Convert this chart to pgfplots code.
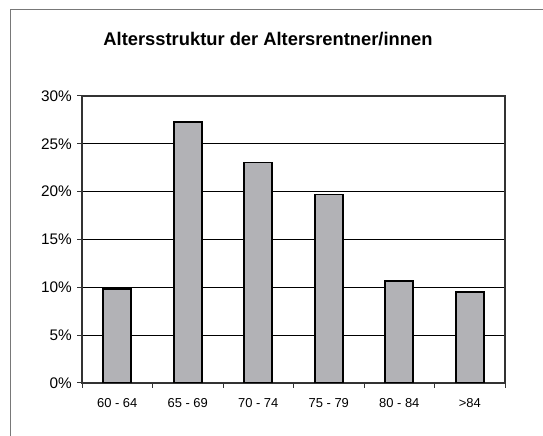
\documentclass[border=0pt]{standalone}
\usepackage{fontspec}
\setmainfont{Liberation Sans}
\usepackage{pgfplots}
\pgfplotsset{compat=1.18}
\definecolor{barfill}{RGB}{178,178,182}
\definecolor{framegray}{RGB}{120,120,120}
\newcommand{\yfont}{\fontsize{15.4}{15.4}\selectfont}
\newcommand{\xfont}{\fontsize{13}{13}\selectfont}
\begin{document}
\begin{tikzpicture}[x=1bp,y=1bp]
\useasboundingbox (0,0) rectangle (543,436);
\clip (0,0) rectangle (543,436);
\draw[framegray, line width=1bp] (10,-10) -- (10,426.5) -- (560,426.5);
\begin{axis}[
  at={(82bp,53bp)}, anchor=south west,
  width=423bp, height=287bp, scale only axis,
  /pgf/number format/assume math mode=true,
  xmin=-0.5, xmax=5.5, ymin=0, ymax=30,
  axis line style={draw=black!80, line width=2bp},
  ytick={0,5,...,30},
  yticklabel={\yfont\pgfmathprintnumber{\tick}\%},
  yticklabel style={anchor=east, inner sep=0pt, xshift=-5bp},
  ymajorgrids, grid style={black, line width=0.9bp},
  ytick pos=left, xtick pos=bottom,
  tick align=outside,
  major tick length=5bp,
  tick style={black!80, line width=1bp},
  xtick={-0.5,0.5,...,5.5}, xticklabels={},
  extra x ticks={0,1,2,3,4,5},
  extra x tick labels={\xfont 60 - 64, \xfont 65 - 69, \xfont 70 - 74, \xfont 75 - 79, \xfont 80 - 84, \xfont >84},
  extra x tick style={major tick length=0pt, grid=none,
    xticklabel style={anchor=north, inner sep=0pt, yshift=-15bp}},
  title={Altersstruktur der Altersrentner/innen},
  title style={font=\bfseries\fontsize{18.4}{18.4}\selectfont, at={(axis description cs:0.4397,1)}, anchor=base, yshift=44.5bp, inner sep=0pt},
]
\addplot[ybar, bar width=28.2bp, fill=barfill, draw=black, line width=1.8bp]
  coordinates {(0,9.85) (1,27.3) (2,23.05) (3,19.7) (4,10.7) (5,9.55)};
\end{axis}
\end{tikzpicture}
\end{document}
